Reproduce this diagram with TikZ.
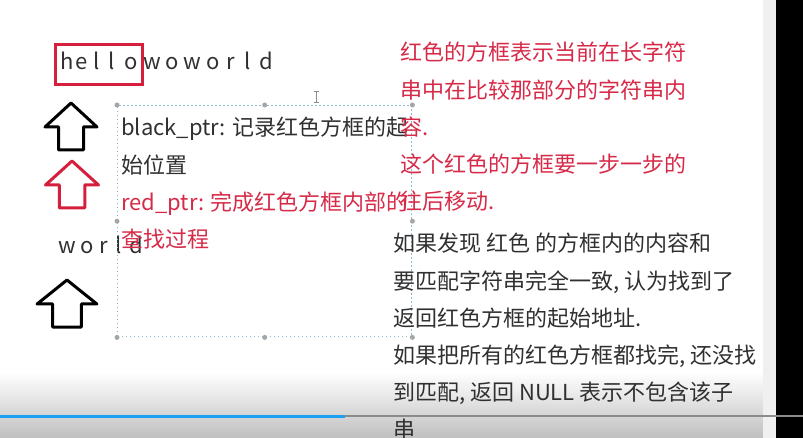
\documentclass[tikz,border=0pt]{standalone}
\usepackage{fontspec}
\setmainfont{Noto Sans CJK SC}
\usepackage{xcolor}
\usetikzlibrary{positioning}
\definecolor{boxred}{RGB}{213,31,60}
\definecolor{txtred}{RGB}{214,42,72}
\definecolor{txtgray}{RGB}{48,48,48}
\definecolor{selblue}{RGB}{140,186,212}
\definecolor{barblue}{RGB}{30,160,240}
\newcommand{\ptrarrow}[3]{\begin{scope}[shift={(#1)},xscale=#3]
  \draw[#2,line width=3pt,line join=round] (0,0)--(26,24)--(12.5,24)--(12.5,47)--(-12.5,47)--(-12.5,24)--(-26,24)--cycle;\end{scope}}

\begin{document}
\begin{tikzpicture}[x=1pt,y=-1pt,
  txt/.style={font=\fontsize{22}{37.2}\selectfont,align=left,inner sep=0pt,text=txtgray,anchor=north west},
  letter/.style={font=\fontsize{22}{22}\selectfont,inner sep=0pt,anchor=base,text=txtgray},
  selframe/.style={draw=selblue,line width=1.4pt,dash pattern=on 1.5pt off 2.5pt,inner sep=0pt,anchor=north west}]
\useasboundingbox (0,0) rectangle (803,438);
% video frame: bottom fade, scrollbar, progress bar
\shade[top color=white,bottom color=black!25] (0,372) rectangle (763,438);
\fill[black!6] (763,0) rectangle (776,438);
\fill[black] (776,0) rectangle (803,438);
\draw[black!45,line width=2pt] (345,416)--(803,416);
\draw[barblue,line width=3pt] (0,416)--(345,416);
% long string and the window on it
\foreach \ch/\x [count=\i] in {h/67,e/82,l/97,l/112,o/131,w/152,o/172,w/192,o/213,r/231,l/248,d/266}
  \node[letter] (long\i) at (\x,70) {\ch};
\draw[boxred,line width=3pt] (55,45) rectangle (142,85);
% sub string
\foreach \ch/\x [count=\i] in {w/67,o/87,r/104,l/119,d/136}
  \node[letter] (sub\i) at (\x,254) {\ch};
% pointers
\ptrarrow{71,103}{black}{1}
\ptrarrow{72,161}{boxred}{1.02}
\ptrarrow{67,280}{black}{1.15}
% selected text box
\node[selframe,minimum width=294,minimum height=231] (selbox) at (117,105) {};
\foreach \a in {north west,north,north east,west,east,south west,south,south east}
  \fill[black!35] (selbox.\a) circle (2.5);
\draw[black!45,line width=1pt] (316,92)--(316,103) (313.5,92)--(318.5,92) (313.5,103)--(318.5,103);
% notes
\node[txt] (ptrnote) at (121,117) {black\_ptr: 记录红色方框的起\\始位置\\{\color{txtred}red\_ptr: 完成红色方框内部的}\\{\color{txtred}查找过程}};
\node[txt,text=txtred] (winnote) at (400,42) {红色的方框表示当前在长字符\\串中在比较那部分的字符串内\\容.\\这个红色的方框要一步一步的\\往后移动.};
\node[txt] (resnote) at (393,233) {如果发现 红色 的方框内的内容和\\要匹配字符串完全一致, 认为找到了\\返回红色方框的起始地址.\\如果把所有的红色方框都找完, 还没找\\到匹配, 返回 NULL 表示不包含该子\\串};
\end{tikzpicture}
\end{document}
